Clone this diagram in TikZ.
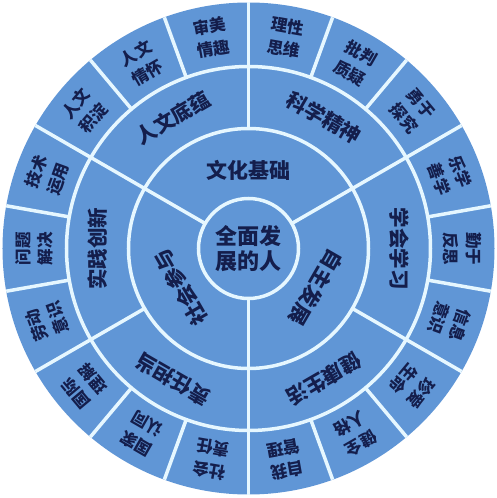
\documentclass[tikz,border=0pt]{standalone}
\usepackage{fontspec}
\newfontfamily\cjk{Noto Sans CJK SC}
\definecolor{wheel}{RGB}{96,150,214}
\definecolor{rim}{RGB}{230,247,255}
\definecolor{ink}{RGB}{20,30,76}

\begin{document}
\begin{tikzpicture}[
      x=1pt, y=1pt,
      sep/.style={draw=rim, line width=3.5pt},
      lbl/.style={text=ink, align=center, inner sep=0pt},
      hub/.style={lbl, font=\cjk\bfseries\fontsize{22}{25}\selectfont},
      pillar/.style={lbl, font=\cjk\bfseries\fontsize{21}{24}\selectfont},
      trait/.style={lbl, font=\cjk\bfseries\fontsize{20.5}{24}\selectfont},
      leaf/.style={lbl, font=\cjk\bfseries\fontsize{16.5}{22.5}\selectfont}
    ]
    \useasboundingbox (-248.5,-249.5) rectangle (248.5,248.5);
    \fill[wheel] (0,0) circle[radius=246pt];

    % rings and spokes
    \draw[sep] (0,0) circle[radius=50pt];
    \draw[sep] (0,0) circle[radius=120pt];
    \draw[sep] (0,0) circle[radius=182pt];
    \foreach \a in {30,150,270} \draw[sep] (\a:50pt) -- (\a:182pt);
    \foreach \a in {90,210,330} \draw[sep] (\a:120pt) -- (\a:182pt);
    \foreach \a in {10,30,...,350} \draw[sep] (\a:182pt) -- (\a:246pt);

    \node[hub] (core) at (0,0) {全面发\\展的人};

    \node[pillar] (base) at (90:78pt) {文化基础};
    \node[pillar, rotate=-120] (self) at (-30:78pt) {自主发展};
    \node[pillar, rotate=120] (social) at (210:78pt) {社会参与};

    \node[trait, rotate=30] (hum) at (120:151pt) {人文底蕴};
    \node[trait, rotate=-30] (sci) at (60:151pt) {科学精神};
    \node[trait, rotate=-90] (learn) at (0:151pt) {学会学习};
    \node[trait, rotate=-150] (health) at (-60:151pt) {健康生活};
    \node[trait, rotate=150] (duty) at (240:151pt) {责任担当};
    \node[trait, rotate=90] (prac) at (180:151pt) {实践创新};

    \foreach \a/\n/\t in {
        100/aes/审美\\情趣, 120/care/人文\\情怀, 140/accum/人文\\积淀,
        80/reason/理性\\思维, 60/crit/批判\\质疑, 40/explore/勇于\\探究,
        20/enjoy/乐学\\善学, 0/reflect/勤于\\反思, -20/info/信息\\意识,
        -40/life/珍爱\\生命, -60/person/健全\\人格, -80/manage/自我\\管理,
        260/civic/社会\\责任, 240/nation/国家\\认同, 220/intl/国际\\理解,
        200/labour/劳动\\意识, 180/solve/问题\\解决, 160/tech/技术\\运用}
      \node[leaf, rotate=\a-90] (\n) at (\a:214pt) {\t};
  \end{tikzpicture}
\end{document}
